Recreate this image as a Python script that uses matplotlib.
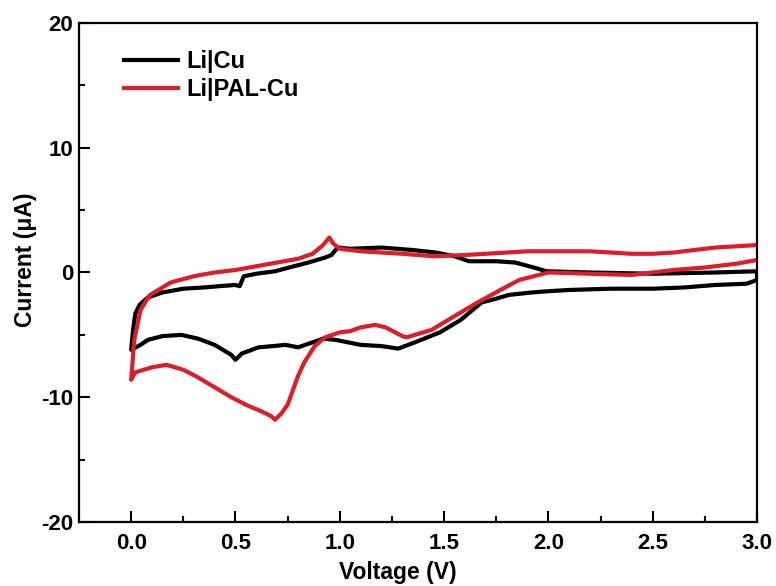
import matplotlib
matplotlib.use("Agg")
import matplotlib.pyplot as plt
from matplotlib.ticker import MultipleLocator

plt.rcParams["font.family"] = ["Liberation Sans", "DejaVu Sans"]
plt.rcParams["font.weight"] = "bold"

# Li|Cu loop: cathodic sweep 3.0 -> 0 V, then anodic 0 -> 3.0 V
cu_v = [3.0, 2.95, 2.8, 2.65, 2.5, 2.3, 2.1, 2.0, 1.92, 1.81, 1.75, 1.68, 1.58,
        1.48, 1.36, 1.28, 1.2, 1.1, 0.98, 0.92, 0.87, 0.8, 0.74, 0.68, 0.61,
        0.53, 0.5, 0.48, 0.4, 0.32, 0.24, 0.15, 0.08, 0.045, 0.0,
        0.01, 0.02, 0.04, 0.08, 0.15, 0.25, 0.35, 0.42, 0.5, 0.52, 0.54,
        0.6, 0.69, 0.78, 0.85, 0.93, 0.96, 0.99, 1.05, 1.2, 1.35, 1.46,
        1.55, 1.62, 1.75, 1.84, 1.93, 1.99, 2.2, 2.5, 2.8, 3.0, 3.0]
cu_i = [-0.6, -0.9, -1.0, -1.2, -1.3, -1.3, -1.4, -1.5, -1.6, -1.8, -2.1, -2.4, -3.8,
        -4.8, -5.6, -6.1, -5.9, -5.8, -5.4, -5.3, -5.6, -6.0, -5.8, -5.9, -6.0,
        -6.5, -7.0, -6.6, -5.8, -5.3, -5.0, -5.1, -5.4, -5.8, -6.2,
        -4.5, -3.3, -2.6, -2.0, -1.6, -1.3, -1.2, -1.1, -1.0, -1.1, -0.3,
        -0.1, 0.1, 0.5, 0.8, 1.2, 1.4, 2.0, 1.9, 2.0, 1.8, 1.6,
        1.3, 0.9, 0.9, 0.8, 0.4, 0.1, 0.0, -0.1, 0.0, 0.1, -0.6]

# Li|PAL-Cu: anodic branch drawn 3.0 -> 0 V, then cathodic branch 0 -> 3.0 V
pal_v = [3.0, 2.9, 2.8, 2.7, 2.6, 2.5, 2.4, 2.3, 2.2, 2.0, 1.9, 1.8, 1.6, 1.45,
         1.3, 1.1, 1.05, 1.0, 0.97, 0.95, 0.92, 0.87, 0.8, 0.7, 0.6, 0.5,
         0.4, 0.3, 0.19, 0.09, 0.045, 0.015, 0.0,
         0.02, 0.1, 0.17, 0.25, 0.32, 0.4, 0.48, 0.55, 0.62, 0.67, 0.69,
         0.72, 0.75, 0.8, 0.83, 0.88, 0.93, 1.0, 1.05, 1.1, 1.17, 1.22, 1.3,
         1.32, 1.44, 1.55, 1.64, 1.77, 1.86, 2.0, 2.2, 2.4, 2.5, 2.6, 2.75,
         2.9, 3.0]
pal_i = [2.2, 2.1, 2.0, 1.8, 1.6, 1.5, 1.5, 1.6, 1.7, 1.7, 1.7, 1.6, 1.4, 1.3,
         1.5, 1.7, 1.8, 1.9, 2.3, 2.8, 2.2, 1.5, 1.1, 0.8, 0.5, 0.2,
         0.0, -0.3, -0.8, -1.8, -3.0, -5.4, -8.6,
         -8.0, -7.6, -7.4, -7.8, -8.4, -9.2, -10.0, -10.6, -11.1, -11.5, -11.8,
         -11.3, -10.6, -8.3, -7.2, -5.9, -5.2, -4.8, -4.7, -4.4, -4.2, -4.4, -5.1,
         -5.2, -4.6, -3.5, -2.6, -1.4, -0.6, 0.0, -0.1, -0.2, 0.0, 0.2, 0.4,
         0.7, 1.0]

x_ticks = [0.0, 0.5, 1.0, 1.5, 2.0, 2.5, 3.0]
y_ticks = [-20, -10, 0, 10, 20]

fig = plt.figure(figsize=(7.76, 5.86), dpi=100)
ax = fig.add_axes([0.1018, 0.1092, 0.8737, 0.8516])

ax.plot(cu_v, cu_i, color="black", lw=3.0, label="Li|Cu")
ax.plot(pal_v, pal_i, color="#DC1E28", lw=3.0, label="Li|PAL-Cu")

ax.set_xlim(-0.25, 3.0)
ax.set_ylim(-20, 20)
ax.set_xticks(x_ticks)
ax.set_yticks(y_ticks)
ax.xaxis.set_minor_locator(MultipleLocator(0.25))
ax.yaxis.set_minor_locator(MultipleLocator(5))
ax.set_xticklabels([f"{v:.1f}" for v in x_ticks])
ax.set_yticklabels([str(v) for v in y_ticks])

ax.tick_params(which="both", direction="in", top=False, right=False,
               width=1.5, labelsize=16)
ax.tick_params(axis="x", pad=8)
ax.tick_params(axis="y", pad=4)
ax.tick_params(which="major", length=8)
ax.tick_params(which="minor", length=4)
for s in ax.spines.values():
    s.set_linewidth(1.6)

ax.set_xlabel("Voltage (V)", fontsize=16.5, fontweight="bold")
ax.xaxis.set_label_coords(0.47, -0.078)
ax.set_ylabel("Current (\u03bcA)", fontsize=16.5, fontweight="bold")
ax.yaxis.set_label_coords(-0.062, 0.525)

ax.legend(loc="upper left", frameon=False, fontsize=17,
          handlelength=2.3, handletextpad=0.35, labelspacing=0.22,
          bbox_to_anchor=(0.035, 0.988))

fig.savefig("out.png", dpi=100)
